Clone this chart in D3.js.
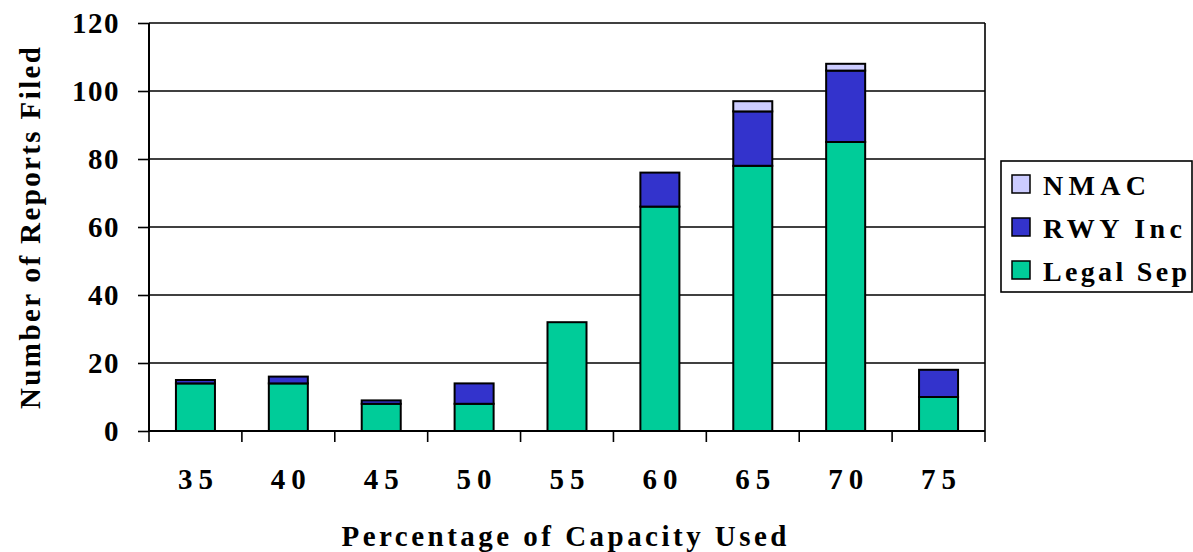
<!DOCTYPE html>
<html><head><meta charset="utf-8">
<script src="https://cdn.jsdelivr.net/npm/d3@7"></script>
<style>body{margin:0;background:#fff}svg{display:block}</style>
</head><body><svg id="c" width="1193" height="552"></svg>
<script>
const categories = ["35","40","45","50","55","60","65","70","75"];
const legalSep = [14,14,8,8,32,66,78,85,10];
const rwyInc   = [1,2,1,6,0,10,16,21,8];
const nmac     = [0,0,0,0,0,0,3,2,0];
const seriesNames = ["Legal Sep","RWY Inc","NMAC"];
const seriesColors = ["#00CC99","#3333CC","#CCCCFF"];
const yTicks = [0,20,40,60,80,100,120];

const FONT = "'Liberation Serif', 'DejaVu Serif', 'Times New Roman', serif";
const svg = d3.select("#c");
const L = 149, R = 985, T = 23, B = 431;
const x = d3.scaleBand().domain(categories).range([L,R]).paddingInner(0.58).paddingOuter(0.29);
const y = d3.scaleLinear().domain([0,120]).range([B,T]);

const rows = categories.map((c,i)=>({cat:c, "Legal Sep":legalSep[i], "RWY Inc":rwyInc[i], "NMAC":nmac[i]}));
const stack = d3.stack().keys(seriesNames)(rows);

svg.append("g").selectAll("line").data(yTicks.filter(d=>d>0)).join("line")
  .attr("x1",L).attr("x2",R).attr("y1",d=>y(d)).attr("y2",d=>y(d))
  .attr("stroke","#000").attr("stroke-width",1.6);
svg.append("line").attr("x1",R).attr("x2",R).attr("y1",T).attr("y2",B).attr("stroke","#000").attr("stroke-width",1.6);

const gBars = svg.append("g");
stack.forEach((s,k)=>{
  gBars.append("g").selectAll("rect").data(s.filter(d=>d[1]-d[0]>0)).join("rect")
    .attr("x",d=>x(d.data.cat)).attr("width",x.bandwidth())
    .attr("y",d=>y(d[1])).attr("height",d=>y(d[0])-y(d[1]))
    .attr("fill",seriesColors[k]).attr("stroke","#000").attr("stroke-width",2);
});

function txt(sel){ return sel.style("font-family",FONT).style("font-weight","bold").attr("fill","#000"); }

const ya = svg.append("g").attr("transform",`translate(${L},0)`)
  .call(d3.axisLeft(y).tickValues(yTicks).tickSize(11).tickPadding(0).tickFormat(d3.format("d")));
ya.attr("font-family",null).attr("font-size",null);
ya.select(".domain").attr("stroke-width",2).attr("d",`M0,${T}V${B}`);
ya.selectAll(".tick line").attr("stroke-width",1.6);
txt(ya.selectAll(".tick text")).style("font-size","29px").attr("x",-29).attr("dy","0.34em").attr("letter-spacing",1.5);

const xTickPos = d3.range(categories.length+1).map(i=>L+i*(R-L)/categories.length);
svg.append("g").selectAll("line").data(xTickPos).join("line")
  .attr("x1",d=>d).attr("x2",d=>d).attr("y1",B).attr("y2",B+11).attr("stroke","#000").attr("stroke-width",1.6);
svg.append("line").attr("x1",L).attr("x2",R).attr("y1",B).attr("y2",B).attr("stroke","#000").attr("stroke-width",2.2);
txt(svg.append("g").selectAll("text").data(categories).join("text"))
  .attr("x",d=>x(d)+x.bandwidth()/2).attr("y",489).attr("text-anchor","middle")
  .style("font-size","29px").attr("textLength",35).attr("lengthAdjust","spacing").text(d=>d);

txt(svg.append("text")).attr("x",(L+R)/2-3).attr("y",546).attr("text-anchor","middle")
  .style("font-size","29px").attr("textLength",445).attr("lengthAdjust","spacing").text("Percentage of Capacity Used");
txt(svg.append("text")).attr("transform",`translate(40,228) rotate(-90)`).attr("text-anchor","middle")
  .style("font-size","29px").attr("textLength",362).attr("lengthAdjust","spacing").text("Number of Reports Filed");

const lg = svg.append("g");
lg.append("rect").attr("x",1001).attr("y",161).attr("width",191).attr("height",131)
  .attr("fill","#fff").attr("stroke","#000").attr("stroke-width",1.6);
const legendOrder = [2,1,0];
const legendLens = {"NMAC":103,"RWY Inc":139,"Legal Sep":144};
legendOrder.forEach((k,i)=>{
  const cy = 184 + i*43;
  lg.append("rect").attr("x",1012).attr("y",cy-9).attr("width",18).attr("height",18)
    .attr("fill",seriesColors[k]).attr("stroke","#000").attr("stroke-width",1.5);
  txt(lg.append("text")).attr("x",1043).attr("y",cy+11).style("font-size","28px")
    .attr("textLength",legendLens[seriesNames[k]]).attr("lengthAdjust","spacing").text(seriesNames[k]);
});
</script></body></html>
